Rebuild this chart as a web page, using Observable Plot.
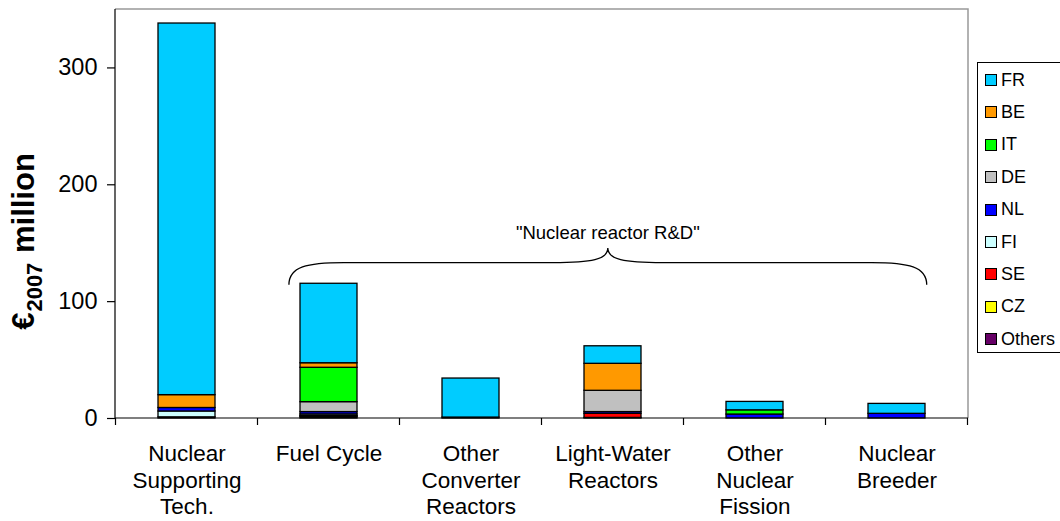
<!DOCTYPE html>
<html>
<head>
<meta charset="utf-8">
<script src="https://cdn.jsdelivr.net/npm/d3@7"></script>
<script src="https://cdn.jsdelivr.net/npm/@observablehq/plot@0.6"></script>
<style>
  html, body { margin: 0; padding: 0; background: #fff; overflow: hidden; }
  #wrap { position: relative; width: 1060px; height: 521px; font-family: "Liberation Sans", Arial, sans-serif; }
  #legend { position: absolute; left: 977px; top: 62px; width: 95px; height: 291px; border: 1px solid #000; background: #fff; box-sizing: border-box; }
  .li { position: absolute; left: 7px; height: 20px; display: flex; align-items: center; font-size: 18px; color: #000; }
  .sw { width: 10px; height: 10px; border: 1px solid #000; margin-right: 4px; }
</style>
</head>
<body>
<div id="wrap"></div>
<script>
const categories = ["Nuclear Supporting Tech.", "Fuel Cycle", "Other Converter Reactors", "Light-Water Reactors", "Other Nuclear Fission", "Nuclear Breeder"];
const tickLabels = ["Nuclear\nSupporting\nTech.", "Fuel Cycle", "Other\nConverter\nReactors", "Light-Water\nReactors", "Other\nNuclear\nFission", "Nuclear\nBreeder"];
// stacking order bottom -> top
const seriesNames = ["Others", "CZ", "SE", "FI", "NL", "DE", "IT", "BE", "FR"];
const seriesColors = ["#660066", "#FFFF00", "#FF0000", "#CCFFFF", "#0000FF", "#C0C0C0", "#00FF00", "#FF9900", "#00CCFF"];
const FR = [318, 68, 33.4, 15, 7.2, 8.5];
const BE = [11, 3.9, 0, 23.1, 0, 0];
const IT = [0, 29.4, 0, 0, 3.6, 0];
const DE = [0, 8.5, 0, 18.2, 0, 0];
const NL = [3, 2, 0, 1.5, 3.4, 4];
const FI = [5, 1.3, 0, 0, 0, 0];
const SE = [0, 0.5, 0, 3.5, 0, 0];
const CZ = [0, 0.7, 0, 0, 0, 0];
const Others = [1, 1, 0.8, 0.5, 0, 0];
const yTicks = [0, 100, 200, 300];
const legendOrder = ["FR", "BE", "IT", "DE", "NL", "FI", "SE", "CZ", "Others"];
const annotationText = "\"Nuclear reactor R&D\"";
// brace levels in data units
const braceEnd = 114, braceMid = 133, bracePeak = 145.5, annotationY = 159;

const seriesValues = {FR, BE, IT, DE, NL, FI, SE, CZ, Others};
const rows = [];
for (const s of seriesNames) {
  categories.forEach((c, i) => {
    const v = seriesValues[s][i];
    if (v > 0) rows.push({category: c, series: s, value: v});
  });
}
const labelOf = new Map(categories.map((c, i) => [c, tickLabels[i]]));

function decorations(index, scales, values, dims) {
  const xs = scales.x, ys = scales.y;
  const step = xs(categories[1]) - xs(categories[0]);
  const bw = xs.bandwidth ? xs.bandwidth() : step * 0.4;
  const left = dims.marginLeft, right = dims.width - dims.marginRight;
  const top = dims.marginTop, bottom = dims.height - dims.marginBottom;
  const g = d3.create("svg:g");
  g.append("path").attr("d", `M${left},${top}H${right}V${bottom}`).attr("fill", "none").attr("stroke", "#999").attr("stroke-width", 1.5);
  g.append("path").attr("d", `M${left},${top}V${bottom}H${right}`).attr("fill", "none").attr("stroke", "#000").attr("stroke-width", 1.2);
  for (let i = 0; i <= categories.length; i++) {
    const x = i < categories.length ? xs(categories[i]) - (step - bw) / 2 : xs(categories[i - 1]) + bw + (step - bw) / 2;
    g.append("line").attr("x1", x).attr("x2", x).attr("y1", bottom).attr("y2", bottom + 7).attr("stroke", "#000").attr("stroke-width", 1.2);
  }
  const L = xs(categories[1]) - step * 0.078;
  const R = xs(categories[categories.length - 1]) + bw + step * 0.012;
  const M = (L + R) / 2;
  const yE = ys(braceEnd), yM = ys(braceMid), yP = ys(bracePeak);
  const c = 55;
  const d = `M${L},${yE} C${L},${yM + 4} ${L + 18},${yM} ${L + c},${yM} H${M - c} C${M - 16},${yM} ${M},${yM - 3} ${M},${yP} C${M},${yM - 3} ${M + 16},${yM} ${M + c},${yM} H${R - c} C${R - 18},${yM} ${R},${yM + 4} ${R},${yE}`;
  g.append("path").attr("d", d).attr("fill", "none").attr("stroke", "#000").attr("stroke-width", 1.3);
  g.append("text").attr("x", M).attr("y", ys(annotationY)).attr("dy", "0.35em").attr("text-anchor", "middle")
    .attr("font-size", 18.5).attr("fill", "#000").text(annotationText);
  const t = g.append("text").attr("transform", `translate(34,${(top + bottom) / 2 + 28}) rotate(-90)`)
    .attr("text-anchor", "middle").attr("font-size", 31).attr("font-weight", "bold").attr("fill", "#000");
  t.append("tspan").text("€");
  t.append("tspan").attr("font-size", 22).attr("dy", 8).attr("dx", 1).text("2007");
  t.append("tspan").attr("dy", -8).attr("dx", 1).text(" million");
  return g.node();
}

const chart = Plot.plot({
  width: 1060,
  height: 521,
  marginLeft: 115,
  marginRight: 92,
  marginTop: 9,
  marginBottom: 103,
  style: {fontFamily: "'Liberation Sans', Arial, sans-serif", background: "#fff", color: "#000"},
  x: {domain: categories, paddingInner: 0.6, paddingOuter: 0.3, axis: null},
  y: {domain: [0, 350], axis: null},
  color: {domain: seriesNames, range: seriesColors},
  marks: [
    Plot.barY(rows, {x: "category", y: "value", fill: "series", stroke: "#000", strokeWidth: 1.3}),
    Plot.axisY({ticks: yTicks, tickSize: 8, tickPadding: 10, fontSize: 23.5, label: null, strokeWidth: 1.2}),
    Plot.axisX({tickSize: 0, tickPadding: 24, fontSize: 22.5, lineHeight: 1.18, label: null, tickFormat: d => labelOf.get(d)}),
    decorations
  ]
});
const wrap = document.getElementById("wrap");
wrap.appendChild(chart);

const legend = document.createElement("div");
legend.id = "legend";
legendOrder.forEach((s, i) => {
  const item = document.createElement("div");
  item.className = "li";
  item.style.top = (7 + i * 32.4) + "px";
  const sw = document.createElement("div");
  sw.className = "sw";
  sw.style.background = seriesColors[seriesNames.indexOf(s)];
  const tx = document.createElement("span");
  tx.textContent = s;
  item.appendChild(sw); item.appendChild(tx);
  legend.appendChild(item);
});
wrap.appendChild(legend);
</script>
</body>
</html>
